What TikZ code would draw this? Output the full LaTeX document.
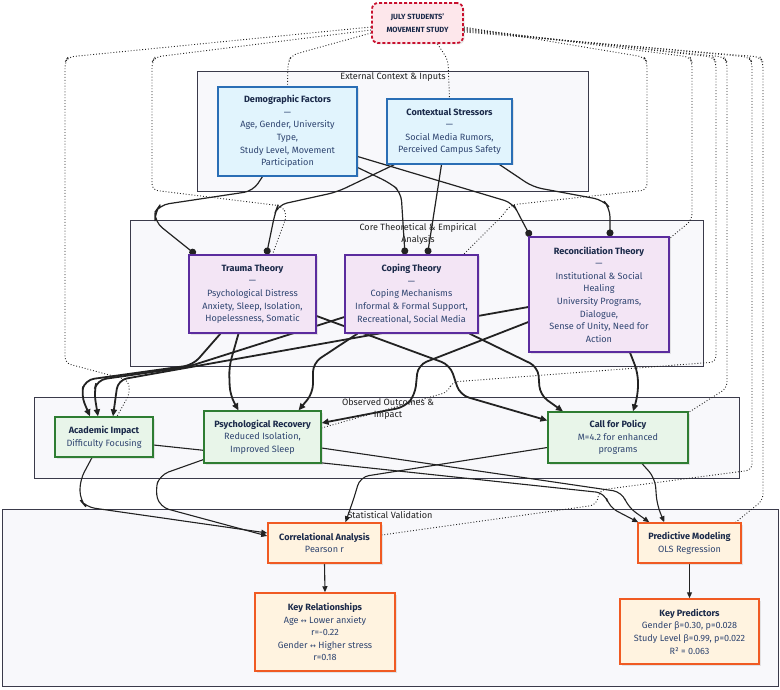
\documentclass[tikz,border=0pt]{standalone}
\usepackage{fontspec}
\setmainfont{Fira Sans}
\newfontfamily\symbolfont{DejaVu Sans}
\usepackage{tikz}
\usetikzlibrary{arrows.meta,calc,shadows}
\definecolor{jsm_title}{HTML}{1B2A4A}
\definecolor{jsm_body}{HTML}{2E4470}
\definecolor{jsm_red}{HTML}{C8102E}
\definecolor{jsm_pink}{HTML}{FDE7EB}
\definecolor{jsm_blue}{HTML}{2A6EB5}
\definecolor{jsm_skyfill}{HTML}{E1F4FD}
\definecolor{jsm_purple}{HTML}{5B2C9E}
\definecolor{jsm_lilac}{HTML}{F3E5F5}
\definecolor{jsm_green}{HTML}{2E7D32}
\definecolor{jsm_mint}{HTML}{E8F5E9}
\definecolor{jsm_orange}{HTML}{F05A22}
\definecolor{jsm_cream}{HTML}{FFF3E0}
\definecolor{jsm_frame}{HTML}{3A3A4A}
\definecolor{jsm_panel}{HTML}{F8F8FB}
\definecolor{jsm_line}{HTML}{222222}

\pgfdeclarelayer{clusters}
\pgfdeclarelayer{links}
\pgfsetlayers{clusters,links,main}

\tikzset{
    sized/.style 2 args={minimum width=#1, minimum height=#2},
    card/.style={align=center, inner sep=2pt, line width=1.2pt, text=jsm_body,
        drop shadow={shadow xshift=1.5pt, shadow yshift=-1.5pt, opacity=0.18}},
    studybox/.style={card, draw=jsm_red, fill=jsm_pink, rounded corners=6pt,
        line width=1.8pt, dash pattern=on 3pt off 2pt, text=jsm_title,
        font=\fontsize{7.5}{12.5}\selectfont\bfseries},
    inputbox/.style={card, draw=jsm_blue, fill=jsm_skyfill},
    theorybox/.style={card, draw=jsm_purple, fill=jsm_lilac},
    outcomebox/.style={card, draw=jsm_green, fill=jsm_mint},
    statbox/.style={card, draw=jsm_orange, fill=jsm_cream, line width=1.5pt},
    panel/.style={draw=jsm_frame, fill=jsm_panel, line width=1pt},
    panellabel/.style={align=center, text=jsm_line, inner sep=0pt},
    lolli/.style={draw=jsm_line, line width=1.2pt, rounded corners=9pt,
        -{Circle[length=7pt]}},
    thick link/.style={draw=jsm_line, line width=1.8pt, rounded corners=9pt,
        -{Triangle[length=7pt,width=6pt]}},
    thin link/.style={draw=jsm_line, line width=1.1pt, rounded corners=9pt,
        -{Triangle[length=6pt,width=5pt]}},
    study link/.style={draw=jsm_line, line width=0.9pt, dotted, rounded corners=6pt},
}
\newcommand{\ttl}[1]{{\bfseries\color{jsm_title}#1}}
\newcommand{\lr}{{\symbolfont\fontsize{7}{12.6}\selectfont ↔}}

\begin{document}
\begin{tikzpicture}[x=1pt, y=-1pt, font=\fontsize{9.1}{12.6}\selectfont]
            \useasboundingbox (0,0) rectangle (780,690);

            \node[studybox, sized={91pt}{40pt}] (study) at (417.5,23) {JULY STUDENTS'\\MOVEMENT STUDY};

            \node[inputbox, sized={139pt}{89pt}] (demo) at (287.5,131.5)
                {\ttl{Demographic Factors}\\—\\Age, Gender, University\\Type,\\Study Level, Movement\\Participation};
            \node[inputbox, sized={125pt}{65pt}] (context) at (449.5,131.5)
                {\ttl{Contextual Stressors}\\—\\Social Media Rumors,\\Perceived Campus Safety};

            \node[theorybox, sized={127pt}{78pt}] (trauma) at (252.5,294)
                {\ttl{Trauma Theory}\\—\\Psychological Distress\\Anxiety, Sleep, Isolation,\\Hopelessness, Somatic};
            \node[theorybox, sized={133pt}{78pt}] (coping) at (411.5,294)
                {\ttl{Coping Theory}\\—\\Coping Mechanisms\\Informal \& Formal Support,\\Recreational, Social Media};
            \node[theorybox, sized={140pt}{115pt}] (recon) at (599,294.5)
                {\ttl{Reconciliation Theory}\\—\\Institutional \& Social\\Healing\\University Programs,\\Dialogue,\\Sense of Unity, Need for\\Action};

            \node[outcomebox, sized={98pt}{40pt}] (academic) at (104,437)
                {\ttl{Academic Impact}\\Difficulty Focusing};
            \node[outcomebox, sized={117pt}{52pt}] (psych) at (262.5,437)
                {\ttl{Psychological Recovery}\\Reduced Isolation,\\Improved Sleep};
            \node[outcomebox, sized={140pt}{51pt}] (policy) at (618,437.5)
                {\ttl{Call for Policy}\\M=4.2 for enhanced\\programs};

            \node[statbox, sized={113pt}{40pt}] (correl) at (324.5,543)
                {\ttl{Correlational Analysis}\\Pearson r};
            \node[statbox, sized={103pt}{40pt}] (predict) at (689.5,543)
                {\ttl{Predictive Modeling}\\OLS Regression};
            \node[statbox, sized={140pt}{78pt}] (keyrel) at (325,632)
                {\ttl{Key Relationships}\\Age \lr{} Lower anxiety\\r=-0.22\\Gender \lr{} Higher stress\\r=0.18};
            \node[statbox, sized={139pt}{65pt}] (keypred) at (689.5,631.5)
                {\ttl{Key Predictors}\\Gender β=0.30, p=0.028\\Study Level β=0.99, p=0.022\\R² = 0.063};

            \begin{pgfonlayer}{clusters}
                \draw[panel] (197,72) rectangle (588,192);
                \node[panellabel] (extlabel) at (393,77) {External Context \& Inputs};
                \draw[panel] (130,221) rectangle (703,366);
                \node[panellabel] (corelabel) at (418,234) {Core Theoretical \& Empirical\\Analysis};
                \draw[panel] (34,397) rectangle (739,478);
                \node[panellabel] (obslabel) at (388,409) {Observed Outcomes \&\\Impact};
                \draw[panel] (2,509) rectangle (778,686);
                \node[panellabel] (statlabel) at (390,515) {Statistical Validation};
            \end{pgfonlayer}

            \begin{pgfonlayer}{links}
                \draw[study link] ($(study.west)+(0,10)$) -- (292,55) -- (288,62) -- (demo.north);
                \draw[study link] ($(study.west)+(0,4)$) -- (68,57) -- (65,62) -- (65,363) -- (128,380) -- (130,393) -- ($(academic.north)+(13,0)$);
                \draw[study link] ($(study.west)+(0,7)$) -- (155,57) -- (152,62) -- (152,190) -- (282,206) -- (287,215) -- ($(trauma.north)+(20,0)$);
                \draw[study link] ($(study.south)+(20,0)$) -- (448,60) -- (context.north);
                \draw[study link] ($(study.east)+(0,4)$) -- (644,57) -- (647,62) -- (647,190) -- (510,205) -- (504,214) -- ($(coping.north east)+(-15,0)$);
                \draw[study link] ($(study.east)+(0,5)$) -- (690,57) -- (692,62) -- (692,220) -- ($(recon.north east)+(0,2)$);
                \draw[study link] ($(study.east)+(0,6)$) -- (713,57) -- (716,62) -- (716,362) -- (452,382) -- (448,392) -- ($(psych.east)+(0,-9)$);
                \draw[study link] ($(study.east)+(0,7)$) -- (724,57) -- (727,62) -- (727,388) -- ($(policy.north east)+(0,1)$);
                \draw[study link] ($(study.east)+(0,8)$) -- (749,57) -- (752,62) -- (752,470) -- (600,490) -- (596,505) -- ($(correl.east)+(0,-8)$);
                \draw[study link] ($(study.east)+(0,9)$) -- (760,57) -- (763,62) -- (763,500) -- ($(predict.north east)+(-6,0)$);

                \draw[lolli] ($(demo.south)+(-25,0)$) -- (253,191) -- (160,205) -- (155,212) -- (155,222) -- ($(trauma.north west)+(7,0)$);
                \draw[lolli] ($(demo.east)+(0,36)$) -- (390,183) -- (401,192) -- ($(coping.north)+(-6.5,0)$);
                \draw[lolli] ($(demo.east)+(0,25)$) -- (513,203) -- (518,213) -- ($(recon.north west)+(2,0)$);
                \draw[lolli] ($(context.south west)+(8,0)$) -- (337,192) -- (278,205) -- (275,213) -- ($(trauma.north)+(14,0)$);
                \draw[lolli] ($(context.south)+(-8,0)$) -- (436,200) -- ($(coping.north)+(16,0)$);
                \draw[lolli] ($(context.south)+(50,0)$) -- (533,187) -- (603,200) -- (610,208) -- ($(recon.north)+(11,0)$);

                \draw[thick link] ($(trauma.south)+(-32,0)$) -- (193,365) -- (85,380) -- (81,395) -- ($(academic.north)+(-14,0)$);
                \draw[thick link] ($(coping.west)+(0,23)$) -- (187,367) -- (97,380) -- (94,392) -- ($(academic.north)+(-6,0)$);
                \draw[thick link] ($(recon.west)+(0,12.5)$) -- (118,380) -- ($(academic.north)+(9,0)$);
                \draw[thick link] ($(trauma.south)+(-14,0)$) -- (229,367) -- (230,395) -- ($(psych.north)+(-24,0)$);
                \draw[thick link] ($(coping.south)+(-54,0)$) -- (313,363) -- (313,393) -- ($(psych.north)+(36,0)$);
                \draw[thick link] ($(recon.west)+(0,27.5)$) -- (418,365) -- (415,395) -- (405,407) -- ($(psych.east)+(0,-14)$);
                \draw[thick link] ($(trauma.east)+(0,22)$) -- (450,365) -- (460,395) -- ($(policy.west)+(0,-17)$);
                \draw[thick link] ($(coping.south)+(58,0)$) -- (538,367) -- (540,395) -- ($(policy.north)+(-55,0)$);
                \draw[thick link] ($(recon.south)+(31,0)$) -- (638,373) -- (638,395) -- ($(policy.north)+(15,0)$);

                \draw[thin link] ($(academic.south)+(-12,0)$) -- (80,480) -- (80,500) -- (86,507) -- ($(correl.west)+(0,-10)$);
                \draw[thin link] ($(psych.south west)+(0,-4)$) -- (160,475) -- (155,490) -- (160,507) -- ($(correl.west)+(0,-7)$);
                \draw[thin link] ($(policy.west)+(0,10)$) -- (360,477) -- (355,495) -- ($(correl.north)+(21,0)$);
                \draw[thin link] ($(academic.east)+(0,8)$) -- (605,493) -- (609,507) -- ($(predict.north west)+(1,0)$);
                \draw[thin link] ($(psych.east)+(0,11)$) -- (622,492) -- (628,507) -- ($(predict.north west)+(12,0)$);
                \draw[thin link] ($(policy.south)+(24,0)$) -- (655,478) -- (657,505) -- ($(predict.north west)+(27,0)$);
                \draw[thin link] (correl.south) -- (keyrel.north);
                \draw[thin link] (predict.south) -- (keypred.north);
            \end{pgfonlayer}

\end{tikzpicture}
\end{document}
